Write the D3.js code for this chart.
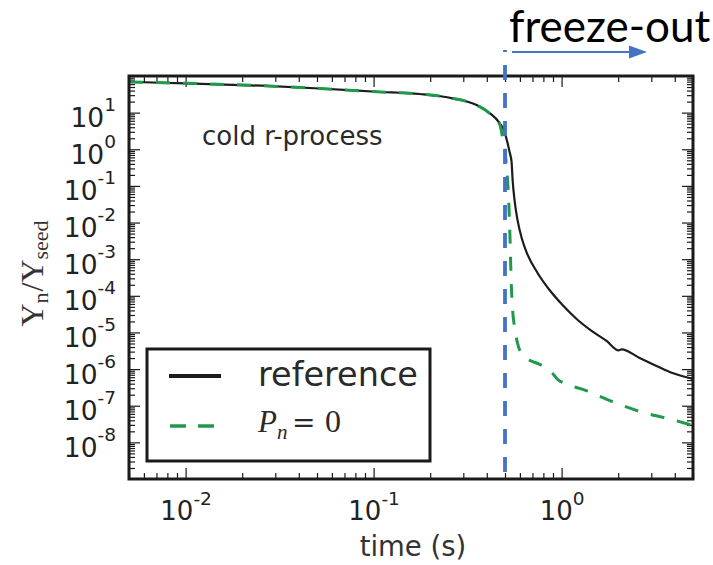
<!DOCTYPE html>
<html>
<head>
<meta charset="utf-8">
<script src="https://cdn.jsdelivr.net/npm/d3@7"></script>
<style>
  html, body { margin: 0; padding: 0; background: #fff; }
  svg { display: block; }
</style>
</head>
<body>
<svg id="chart" width="713" height="565"></svg>
<script>
// Neutron-to-seed ratio versus time for the cold r-process trajectory
const timeRef = [0.005, 0.01, 0.0254, 0.0516, 0.104, 0.176, 0.263, 0.353, 0.414, 0.468, 0.497, 0.516, 0.529, 0.542, 0.549, 0.562, 0.583, 0.615, 0.651, 0.745, 0.863, 1.012, 1.202, 1.444, 1.735, 2.01, 2.084, 2.60, 3.20, 3.89, 5.0];
const ynRef = [69, 63.2, 54.3, 45.6, 37.2, 32.2, 24.6, 16.1, 9.75, 5.2, 3.0, 1.48, 0.84, 0.447, 0.144, 0.041, 0.0116, 0.0036, 1.55e-3, 4.2e-4, 1.44e-4, 5.6e-5, 2.33e-5, 1.1e-5, 5.85e-6, 3.22e-6, 3.47e-6, 2.01e-6, 1.22e-6, 7.8e-7, 5.4e-7];

// Same trajectory with beta-delayed neutron emission switched off (P_n = 0)
const timePn0 = [0.005, 0.01, 0.0254, 0.0516, 0.104, 0.176, 0.263, 0.353, 0.414, 0.468, 0.485, 0.497, 0.510, 0.523, 0.532, 0.539, 0.549, 0.562, 0.583, 0.620, 0.676, 0.764, 0.832, 0.885, 0.952, 1.037, 1.341, 1.845, 2.70, 3.66, 5.0];
const ynPn0 = [69, 63.2, 54.3, 45.6, 37.2, 32.2, 24.6, 16.1, 9.6, 4.9, 2.15, 1.15, 0.306, 0.041, 3.3e-3, 2.67e-4, 4.05e-5, 1.39e-5, 5.07e-6, 2.38e-6, 1.74e-6, 1.35e-6, 1.05e-6, 8.2e-7, 5.26e-7, 4.09e-7, 2.64e-7, 1.32e-7, 6.6e-8, 4.5e-8, 2.9e-8];

const xMajorTicks = [0.01, 0.1, 1];
const xTickExponents = ["-2", "-1", "0"];
const yMajorTicks = [1e1, 1e0, 1e-1, 1e-2, 1e-3, 1e-4, 1e-5, 1e-6, 1e-7, 1e-8];
const yTickExponents = ["1", "0", "-1", "-2", "-3", "-4", "-5", "-6", "-7", "-8"];
const freezeOutTime = 0.5;
const legendLabels = ["reference", "P_n=0"];

const svg = d3.select("#chart");
const plotLeft = 129, plotRight = 693, plotTop = 76, plotBottom = 479;

const x = d3.scaleLog().domain([0.005, 5]).range([plotLeft, plotRight]);
const y = d3.scaleLog().domain([1e-9, 1e2]).range([plotBottom, plotTop]);

// minor tick positions: 2..9 times each decade inside the domain
function minorTicks(scale, lo, hi) {
  const out = [];
  const [d0, d1] = scale.domain();
  for (let e = lo; e <= hi; e++) {
    for (let m = 2; m <= 9; m++) {
      const v = m * Math.pow(10, e);
      if (v >= Math.min(d0, d1) * 0.999 && v <= Math.max(d0, d1) * 1.001) out.push(v);
    }
  }
  return out;
}
const xMinor = minorTicks(x, -3, 0);
const yMinor = minorTicks(y, -9, 1);

const tickColor = "#1a1a1a";
const majorLen = 11, minorLen = 6;

function styleAxis(g) {
  g.select(".domain").remove();
  g.selectAll(".tick line").attr("stroke", tickColor).attr("stroke-width", 1.2);
}

// bottom axis with labels
const gxb = svg.append("g").attr("transform", `translate(0,${plotBottom})`)
  .call(d3.axisBottom(x).tickValues(xMajorTicks).tickSize(-majorLen).tickPadding(0).tickFormat(""));
styleAxis(gxb);
gxb.selectAll(".tick text").each(function(d) {
  const t = d3.select(this).text(null)
    .attr("y", 41).attr("dy", null)
    .attr("fill", "#222")
    .attr("font-family", "DejaVu Sans, sans-serif")
    .attr("font-size", 26)
    .attr("text-anchor", "middle");
  t.append("tspan").text("10");
  t.append("tspan").attr("dy", -15).attr("font-size", 18.5).text(xTickExponents[xMajorTicks.indexOf(d)]);
});
svg.append("g").attr("transform", `translate(0,${plotBottom})`)
  .call(d3.axisBottom(x).tickValues(xMinor).tickSize(-minorLen).tickFormat(""))
  .call(styleAxis);
// top axis ticks
svg.append("g").attr("transform", `translate(0,${plotTop})`)
  .call(d3.axisTop(x).tickValues(xMajorTicks).tickSize(-majorLen).tickFormat(""))
  .call(styleAxis);
svg.append("g").attr("transform", `translate(0,${plotTop})`)
  .call(d3.axisTop(x).tickValues(xMinor).tickSize(-minorLen).tickFormat(""))
  .call(styleAxis);

// left axis with labels
const gyl = svg.append("g").attr("transform", `translate(${plotLeft},0)`)
  .call(d3.axisLeft(y).tickValues(yMajorTicks).tickSize(-majorLen).tickPadding(13).tickFormat(""));
styleAxis(gyl);
gyl.selectAll(".tick text").each(function(d) {
  const t = d3.select(this).text(null)
    .attr("x", -13).attr("dy", null).attr("y", 14)
    .attr("fill", "#222")
    .attr("font-family", "DejaVu Sans, sans-serif")
    .attr("font-size", 26.5)
    .attr("text-anchor", "end");
  t.append("tspan").text("10");
  t.append("tspan").attr("dy", -16).attr("font-size", 18.5).text(yTickExponents[yMajorTicks.indexOf(d)]);
});
svg.append("g").attr("transform", `translate(${plotLeft},0)`)
  .call(d3.axisLeft(y).tickValues(yMinor).tickSize(-minorLen).tickFormat(""))
  .call(styleAxis);
// right axis ticks
svg.append("g").attr("transform", `translate(${plotRight},0)`)
  .call(d3.axisRight(y).tickValues(yMajorTicks).tickSize(-majorLen).tickFormat(""))
  .call(styleAxis);
svg.append("g").attr("transform", `translate(${plotRight},0)`)
  .call(d3.axisRight(y).tickValues(yMinor).tickSize(-minorLen).tickFormat(""))
  .call(styleAxis);

// curves
svg.append("clipPath").attr("id", "plotClip")
  .append("rect").attr("x", plotLeft).attr("y", plotTop)
  .attr("width", plotRight - plotLeft).attr("height", plotBottom - plotTop);

const line = d3.line()
  .x(d => x(d[0]))
  .y(d => y(d[1]))
  .curve(d3.curveMonotoneX);

const refData = timeRef.map((t, i) => [t, ynRef[i]]);
const pn0Data = timePn0.map((t, i) => [t, ynPn0[i]]);

const curves = svg.append("g").attr("clip-path", "url(#plotClip)");
curves.append("path").datum(refData)
  .attr("d", line).attr("fill", "none")
  .attr("stroke", "#1c1c1c").attr("stroke-width", 2.2);
curves.append("path").datum(pn0Data)
  .attr("d", line).attr("fill", "none")
  .attr("stroke", "#1f9a4c").attr("stroke-width", 3)
  .attr("stroke-dasharray", "14,13");

// plot frame
svg.append("rect")
  .attr("x", plotLeft).attr("y", plotTop)
  .attr("width", plotRight - plotLeft).attr("height", plotBottom - plotTop)
  .attr("fill", "none").attr("stroke", "#1a1a1a").attr("stroke-width", 3);

// annotation inside the axes
svg.append("text")
  .attr("x", 202).attr("y", 145)
  .attr("font-family", "DejaVu Sans, sans-serif").attr("font-size", 26)
  .attr("fill", "#2a2a2a")
  .text("cold r-process");

// axis titles
svg.append("text")
  .attr("x", 413).attr("y", 556)
  .attr("text-anchor", "middle")
  .attr("font-family", "DejaVu Sans, sans-serif").attr("font-size", 27.5)
  .attr("fill", "#333")
  .text("time (s)");

const yl = svg.append("text")
  .attr("transform", `translate(43,${(plotTop + plotBottom) / 2 - 4}) rotate(-90)`)
  .attr("text-anchor", "middle")
  .attr("font-family", "Liberation Serif, serif").attr("font-size", 32)
  .attr("fill", "#333");
yl.append("tspan").text("Y");
yl.append("tspan").attr("dy", 5).attr("font-size", 22).text("n");
yl.append("tspan").attr("dy", -5).attr("dx", 1).text("/Y");
yl.append("tspan").attr("dy", 5).attr("font-size", 22).text("seed");

// legend
const lg = svg.append("g");
lg.append("rect").attr("x", 147).attr("y", 349).attr("width", 283).attr("height", 112)
  .attr("fill", "#fff").attr("stroke", "#1a1a1a").attr("stroke-width", 3);
lg.append("line").attr("x1", 169).attr("x2", 221).attr("y1", 376).attr("y2", 376)
  .attr("stroke", "#1c1c1c").attr("stroke-width", 4);
lg.append("line").attr("x1", 170).attr("x2", 214).attr("y1", 426).attr("y2", 426)
  .attr("stroke", "#1f9a4c").attr("stroke-width", 3.7).attr("stroke-dasharray", "16,12");
lg.append("text").attr("x", 258).attr("y", 386)
  .attr("font-family", "DejaVu Sans, sans-serif").attr("font-size", 33.5)
  .attr("fill", "#2a2a2a").text(legendLabels[0]);
const pl = lg.append("text").attr("x", 258).attr("y", 432)
  .attr("font-family", "Liberation Serif, serif").attr("font-size", 31).attr("fill", "#2a2a2a");
pl.append("tspan").attr("font-style", "italic").text("P");
pl.append("tspan").attr("font-style", "italic").attr("font-size", 21).attr("dy", 7).text("n");
pl.append("tspan").attr("dy", -7).attr("x", 292)
  .attr("font-family", "DejaVu Serif, serif").attr("font-size", 28).text("=");
pl.append("tspan").attr("x", 325).attr("font-size", 32).text("0");

// freeze-out marker
const xf = x(freezeOutTime);
svg.append("line")
  .attr("x1", xf).attr("x2", xf).attr("y1", plotTop - 26).attr("y2", plotBottom - 6)
  .attr("stroke", "#4472C4").attr("stroke-width", 3.8)
  .attr("stroke-dasharray", "15,13").attr("stroke-dashoffset", 13);
svg.append("line")
  .attr("x1", xf + 7).attr("x2", 632).attr("y1", 52).attr("y2", 52)
  .attr("stroke", "#4472C4").attr("stroke-width", 1.8);
svg.append("path")
  .attr("d", "M629,45.5 L647,52 L629,58.5 Z")
  .attr("fill", "#4472C4");
svg.append("text")
  .attr("x", 509).attr("y", 42)
  .attr("font-family", "Lato, Carlito, sans-serif").attr("font-size", 44)
  .attr("fill", "#000")
  .text("freeze-out");
</script>
</body>
</html>
